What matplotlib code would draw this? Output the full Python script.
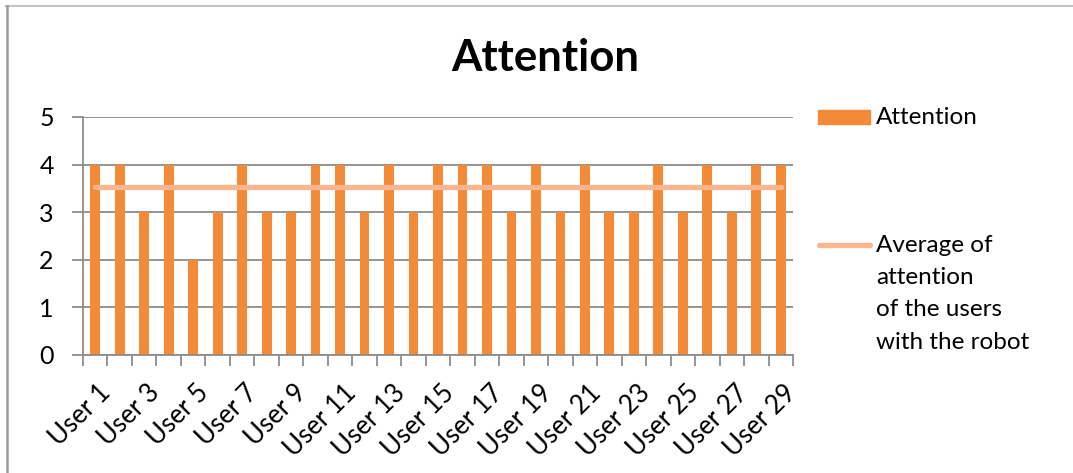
import numpy as np
import matplotlib
matplotlib.use('Agg')
import matplotlib.pyplot as plt
from matplotlib.lines import Line2D
from matplotlib.patches import Rectangle
from matplotlib.transforms import ScaledTranslation

users = ['User %d' % i for i in range(1, 30)]
attention = [4, 4, 3, 4, 2, 3, 4, 3, 3, 4, 4, 3, 4, 3, 4, 4, 4, 3, 4, 3,
             4, 3, 3, 4, 3, 4, 3, 4, 4]
avg_attention = 3.52

plt.rcParams['font.family'] = ['Lato', 'DejaVu Sans']

W, H = 1073, 473
fs = 17.5
fig = plt.figure(figsize=(W / 100, H / 100), dpi=100)
ax = fig.add_axes([83 / W, 1 - 355 / H, 710 / W, 238 / H])

bar_c = '#F38A38'
avg_c = '#FBB58F'
grid_c = '#8C8C8C'

x = np.arange(1, len(users) + 1)
ax.bar(x, attention, width=0.4, color=bar_c, zorder=2)
ax.plot([x[0], x[-1]], [avg_attention, avg_attention], color=avg_c, lw=3.8,
        solid_capstyle='round', zorder=3)

ax.set_xlim(0.5, len(users) + 0.5)
ax.set_ylim(0, 5)
ax.set_yticks(range(6))
ax.yaxis.grid(True, color=grid_c, lw=1.3, zorder=0)
ax.tick_params(axis='y', length=8, width=1.3, color=grid_c, labelsize=18, pad=13)

ax.set_xticks(x[::2])
ax.set_xticklabels(users[::2], rotation=45, ha='right', rotation_mode='anchor')
ax.set_xticks(np.arange(0.5, len(users) + 1), minor=True)
ax.tick_params(axis='x', which='major', length=0, labelsize=18.5, pad=18)
ax.tick_params(axis='x', which='minor', length=8, width=1.3, color=grid_c)
shift = ScaledTranslation(3 / 100, 0, fig.dpi_scale_trans)
for lab in ax.get_xticklabels():
    lab.set_transform(lab.get_transform() + shift)

for s in ['top', 'right']:
    ax.spines[s].set_visible(False)
for s in ['left', 'bottom']:
    ax.spines[s].set_color(grid_c)
    ax.spines[s].set_linewidth(1.3)

fig.text(545 / W, 1 - 58 / H, 'Attention', ha='center', va='center',
         fontsize=31.5, fontweight='bold')

# legend drawn by hand so the multi-line label sits like the original
fig.add_artist(Rectangle((818 / W, 1 - 124 / H), 52 / W, 14 / H,
                         transform=fig.transFigure, color=bar_c))
fig.text(876 / W, 1 - 117 / H, 'Attention', va='center', fontsize=fs)
fig.add_artist(Line2D([819 / W, 870 / W], [1 - 245 / H, 1 - 245 / H],
                      transform=fig.transFigure, color=avg_c, lw=3.8,
                      solid_capstyle='round'))
for i, t in enumerate(['Average of', 'attention', 'of the users', 'with the robot']):
    fig.text(876 / W, 1 - (245 + 32.5 * i) / H, t, va='center', fontsize=fs)

# outer chart frame
fig.add_artist(Line2D([6 / W, 1], [1 - 6.5 / H, 1 - 6.5 / H],
                      transform=fig.transFigure, color='#C4C4C4', lw=1.5))
fig.add_artist(Line2D([7 / W, 7 / W], [0, 1 - 6.5 / H],
                      transform=fig.transFigure, color='#9A9A9A', lw=1.8))

fig.savefig('out.png', dpi=100)
